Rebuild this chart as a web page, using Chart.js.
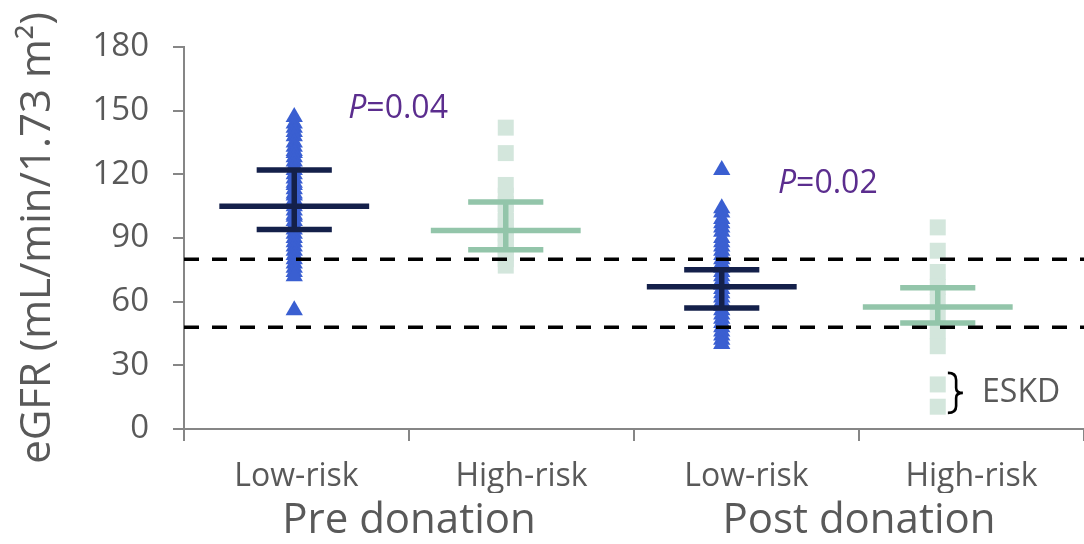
<!DOCTYPE html>
<html>
<head>
<meta charset="utf-8">
<title>eGFR pre and post donation</title>
<script src="https://cdn.jsdelivr.net/npm/chart.js@4.4.1/dist/chart.umd.min.js"></script>
<style>
  html, body { margin: 0; padding: 0; background: #fff; }
  #wrap { width: 1084px; height: 544px; }
</style>
</head>
<body>
<div id="wrap"><canvas id="egfrChart" width="1084" height="544"></canvas></div>
<script>
// categories
const groupLabels = ["Low-risk", "High-risk", "Low-risk", "High-risk"];
const phaseLabels = ["Pre donation", "Post donation"];

// where each column sits on the 0..4 x scale
const groupX = [0.49, 1.43, 2.39, 3.35];

// individual eGFR values
const lowPre = [147, 144, 142, 140, 138, 135, 133, 131, 130, 128, 126, 124, 122, 120, 118, 116, 115, 113, 111, 110,
                108, 106, 105, 103, 101, 100, 98, 96, 94, 92, 90, 88, 86, 84, 82, 80, 78, 76, 74, 72, 56];
const highPre = [142, 130, 115, 110, 106, 102, 98, 95, 92, 89, 86, 83, 80, 77];
const lowPost = [122, 104, 102, 99, 97, 95, 93, 90, 88, 86, 84, 82, 80, 78, 76, 74, 72, 70, 68, 66, 64, 62,
                 60, 58, 56, 54, 52, 50, 48, 46, 44, 42, 40];
const highPost = [95, 84, 74, 67, 60, 53, 46, 39, 21, 10.5];

// mean and error bar ends
const means = [105, 93.5, 67, 57.5];
const upper = [122, 107, 75, 66.5];
const lower = [94, 84.5, 57, 50];

// reference lines
const thresholds = [80, 48];

const yTicks = [0, 30, 60, 90, 120, 150, 180];

const FONT = "'Open Sans', 'DejaVu Sans', sans-serif";
const GREY = "#595959";
const AXIS = "#868686";
const BLUE = "#3a5fd1";
const NAVY = "#14204a";
const GREEN = "#93c5aa";
const PALE = "#d3e6dc";

function pointsAt(x, values) {
    return values.map(v => ({ x: x, y: v }));
}

function errorBar(x, m, lo, hi) {
    return [
        { x: x - 0.333, y: m }, { x: x + 0.333, y: m }, { x: x, y: null },
        { x: x - 0.167, y: hi }, { x: x + 0.167, y: hi }, { x: x, y: null },
        { x: x - 0.167, y: lo }, { x: x + 0.167, y: lo }, { x: x, y: null },
        { x: x, y: hi }, { x: x, y: lo }
    ];
}

const columns = [lowPre, highPre, lowPost, highPost];
const datasets = [];

columns.forEach((vals, i) => {
    const low = i % 2 === 0;
    datasets.push({
        label: groupLabels[i],
        data: pointsAt(groupX[i], vals),
        pointStyle: low ? "triangle" : "rect",
        pointRadius: low ? 10 : 11.3,
        pointBackgroundColor: low ? BLUE : PALE,
        pointBorderWidth: 0,
        showLine: false,
        order: 3
    });
    datasets.push({
        label: groupLabels[i] + " mean",
        data: errorBar(groupX[i], means[i], lower[i], upper[i]),
        showLine: true,
        spanGaps: false,
        borderColor: low ? NAVY : GREEN,
        borderWidth: 5.5,
        borderCapStyle: "butt",
        pointRadius: 0,
        order: 2
    });
});

thresholds.forEach(t => {
    datasets.push({
        label: "threshold " + t,
        data: [{ x: 0, y: t }, { x: 4, y: t }],
        showLine: true,
        borderColor: "#000",
        borderWidth: 3.5,
        borderDash: [15, 13],
        pointRadius: 0,
        order: 1
    });
});

// P values, ESKD bracket
const notes = {
    id: "notes",
    afterDatasetsDraw(chart) {
        const { ctx, scales: { x, y } } = chart;
        ctx.save();
        ctx.textBaseline = "middle";
        ctx.textAlign = "left";

        function pValue(text, xv, yv) {
            let px = x.getPixelForValue(xv);
            const py = y.getPixelForValue(yv);
            ctx.fillStyle = "#5b2d8e";
            ctx.font = "italic 32px " + FONT;
            ctx.fillText("P", px, py);
            px += ctx.measureText("P").width;
            ctx.font = "32px " + FONT;
            ctx.fillText("=" + text, px, py);
        }
        pValue("0.04", 0.73, 150.8);
        pValue("0.02", 2.64, 115.5);

        // brace
        const bx = x.getPixelForValue(3.395);
        const by = y.getPixelForValue(17);
        const h = 20, w = 15;
        ctx.strokeStyle = "#000";
        ctx.lineWidth = 2.6;
        ctx.beginPath();
        ctx.moveTo(bx, by - h);
        ctx.quadraticCurveTo(bx + w * 0.55, by - h, bx + w * 0.55, by - h + 7);
        ctx.lineTo(bx + w * 0.55, by - 5);
        ctx.quadraticCurveTo(bx + w * 0.55, by, bx + w, by);
        ctx.quadraticCurveTo(bx + w * 0.55, by, bx + w * 0.55, by + 5);
        ctx.lineTo(bx + w * 0.55, by + h - 7);
        ctx.quadraticCurveTo(bx + w * 0.55, by + h, bx, by + h);
        ctx.stroke();

        ctx.fillStyle = GREY;
        ctx.font = "32px " + FONT;
        ctx.fillText("ESKD", x.getPixelForValue(3.547), y.getPixelForValue(17));
        ctx.restore();
    }
};

const ctx = document.getElementById("egfrChart").getContext("2d");

function noSidePadding(s) {
    s.paddingLeft = 0;
    s.paddingRight = 0;
}

new Chart(ctx, {
    type: "scatter",
    data: { datasets: datasets },
    plugins: [notes],
    options: {
        responsive: false,
        animation: false,
        devicePixelRatio: 1,
        layout: { autoPadding: false, padding: { top: 47, right: 0, left: 0, bottom: 0 } },
        plugins: {
            legend: { display: false },
            tooltip: { enabled: false }
        },
        scales: {
            x: {
                type: "linear",
                min: 0,
                max: 4,
                weight: 0,
                ticks: { stepSize: 1, display: false },
                grid: { drawOnChartArea: false, drawTicks: true, tickLength: 12, color: AXIS, lineWidth: 2 },
                border: { color: AXIS, width: 2 },
                afterFit: s => { s.height = 14; noSidePadding(s); }
            },
            x2: {
                type: "category",
                labels: groupLabels,
                offset: true,
                position: "bottom",
                weight: 1,
                grid: { display: false, drawTicks: false },
                border: { display: false },
                ticks: { font: { family: FONT, size: 32 }, color: GREY, padding: 15, autoSkip: false, maxRotation: 0 },
                afterFit: s => { s.height = 50; noSidePadding(s); }
            },
            x3: {
                type: "category",
                labels: phaseLabels,
                offset: true,
                position: "bottom",
                weight: 2,
                grid: { display: false, drawTicks: false },
                border: { display: false },
                ticks: { font: { family: FONT, size: 42 }, color: GREY, padding: 3, autoSkip: false, maxRotation: 0 },
                afterFit: s => { s.height = 51; noSidePadding(s); }
            },
            y: {
                min: 0,
                max: 180,
                afterBuildTicks: s => { s.ticks = yTicks.map(v => ({ value: v })); },
                ticks: { font: { family: FONT, size: 33 }, color: GREY, padding: 24 },
                grid: { drawOnChartArea: false, drawTicks: true, tickLength: 11, color: AXIS, lineWidth: 2 },
                border: { color: AXIS, width: 2 },
                title: {
                    display: true,
                    text: "eGFR (mL/min/1.73 m²)",
                    font: { family: FONT, size: 42 },
                    color: GREY,
                    padding: { top: 13, bottom: 0 }
                },
                afterFit: s => { s.width = 184; }
            }
        }
    }
});
</script>
</body>
</html>
